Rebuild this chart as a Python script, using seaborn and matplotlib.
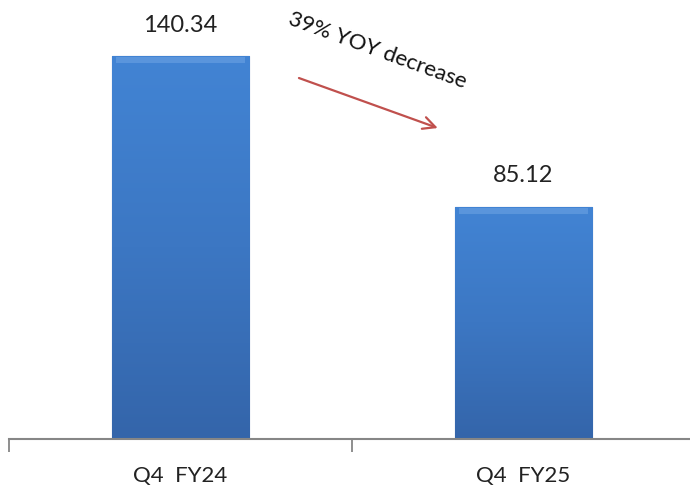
import numpy as np
import pandas as pd
import matplotlib.pyplot as plt
import seaborn as sns
from matplotlib.colors import LinearSegmentedColormap

quarters = ["Q4  FY24", "Q4  FY25"]
revenue = [140.34, 85.12]
change_note = "39% YOY decrease"

df = pd.DataFrame({"Quarter": quarters, "Value": revenue})

sns.set_style("white")
plt.rcParams['font.family'] = ['Lato', 'DejaVu Sans']

fig = plt.figure(figsize=(6.9, 4.89), dpi=100)
ax = fig.add_axes([0.013, 0.1, 0.994, 0.9])

sns.barplot(data=df, x="Quarter", y="Value", color="#3D79C4", width=0.4,
            edgecolor="#2C5A96", linewidth=0.8, saturation=1, ax=ax)

# vertical gradient on each bar, like the office-style bevelled bars
grad = LinearSegmentedColormap.from_list("bar", ["#3465AA", "#3C77C3", "#4284D4"])
for p in ax.patches:
    x0, y0 = p.get_x(), p.get_y()
    w, h = p.get_width(), p.get_height()
    img = ax.imshow(np.linspace(0, 1, 256).reshape(-1, 1), cmap=grad, aspect="auto",
                    origin="lower", extent=[x0, x0 + w, y0, y0 + h], zorder=p.get_zorder())
    img.set_clip_path(p)
    # light bevel at the top edge
    ax.fill_between([x0 + w * 0.03, x0 + w * 0.97], y0 + h - 2.6, y0 + h - 0.4,
                    color="#6FA4E4", alpha=0.55, linewidth=0, zorder=p.get_zorder() + 0.1)

for i, v in enumerate(revenue):
    ax.annotate(f"{v:.2f}", xy=(i, v), xytext=(0, 23), textcoords="offset points",
                ha="center", va="center", fontsize=17, color="#222222")

ax.annotate("", xy=(0.758, 113.6), xytext=(0.338, 132.6),
            arrowprops=dict(arrowstyle="->", color="#C0504D", lw=1.6,
                            mutation_scale=22))
ax.text(0.574, 142.6, change_note, rotation=-20, ha="center", va="center",
        fontsize=16, color="#111111")

ax.set_xlim(-0.5, 1.5)
ax.set_ylim(0, 161.2)
ax.set_xlabel("")
ax.set_ylabel("")
ax.set_yticks([])
ax.set_xticks([-0.5, 0.5, 1.5])
ax.set_xticklabels([])
ax.set_xticks([0, 1], minor=True)
ax.set_xticklabels(quarters, minor=True, fontsize=16, color="#222222")
ax.tick_params(axis="x", which="major", length=9, width=1.3, color="#868686",
               direction="out", bottom=True)
ax.tick_params(axis="x", which="minor", length=0, pad=19)
for s in ["top", "right", "left"]:
    ax.spines[s].set_visible(False)
ax.spines["bottom"].set_color("#868686")
ax.spines["bottom"].set_linewidth(1.5)

fig.savefig("out.png", dpi=100)
